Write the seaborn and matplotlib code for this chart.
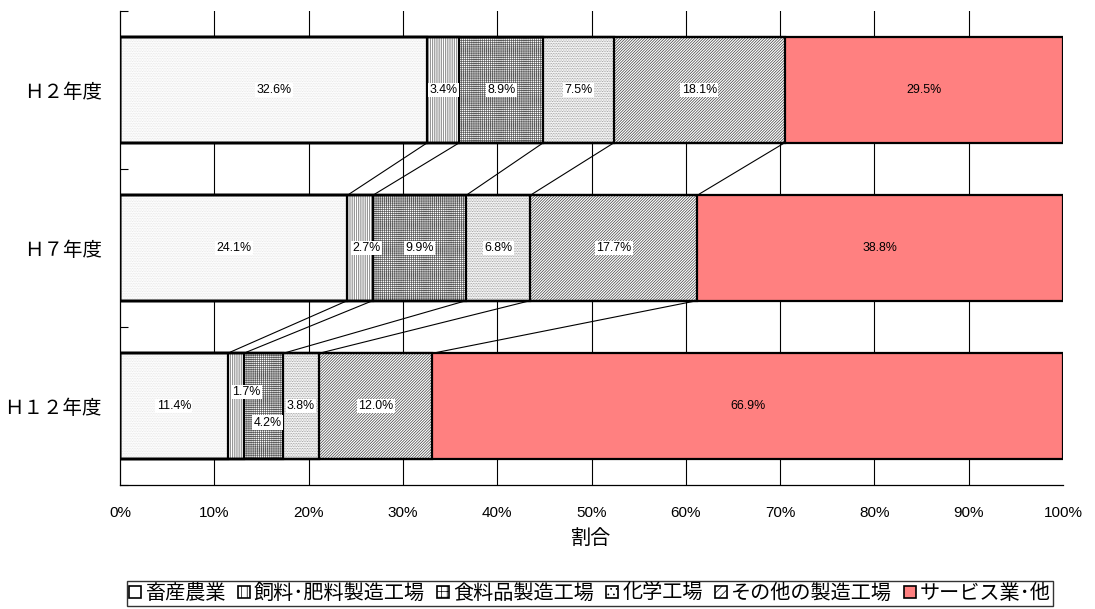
import numpy as np
import pandas as pd
import matplotlib
matplotlib.use("Agg")
import matplotlib.pyplot as plt
import seaborn as sns
from matplotlib.patches import Rectangle, Patch

# ---------------- data ----------------
years = ["Ｈ２年度", "Ｈ７年度", "Ｈ１２年度"]
series_names = ["畜産農業", "飼料･肥料製造工場", "食料品製造工場", "化学工場", "その他の製造工場", "サービス業･他"]
livestock = [32.6, 24.1, 11.4]
feed_fert = [3.4, 2.7, 1.7]
food = [8.9, 9.9, 4.2]
chemical = [7.5, 6.8, 3.8]
other_mfg = [18.1, 17.7, 12.0]
service = [29.5, 38.8, 66.9]
x_ticks = [0, 10, 20, 30, 40, 50, 60, 70, 80, 90, 100]
x_label = "割合"

series_values = [livestock, feed_fert, food, chemical, other_mfg, service]

# ---------------- styles ----------------
face_colors = ["white", "white", "white", "white", "white", "#FF8080"]
hatches = ["." * 10, "|" * 9, "+" * 8, "." * 10, "/" * 12, None]
hatch_colors = ["#e2e2e2", "#6a6a6a", "#5a5a5a", "#8a8a8a", "#404040", "#FF8080"]
legend_hatches = [None, "|||", "+++", "...", "////", None]
# label offsets in points (row, series) -> (dx, dy)
label_offsets = {(1, 1): (5, 0), (2, 1): (8, 10), (2, 2): (3, -12)}

plt.rcParams["hatch.linewidth"] = 0.5
plt.rcParams["font.family"] = ["Noto Sans CJK JP", "DejaVu Sans"]

fig = plt.figure(figsize=(10.95, 6.09), dpi=100)
ax = fig.add_axes([120 / 1095, 1 - 485 / 609, (1063 - 120) / 1095, (485 - 11) / 609])

# cumulative table
df = pd.DataFrame({"year": years})
cum = np.zeros(len(years))
cum_cols = []
for i, vals in enumerate(series_values):
    cum = cum + np.array(vals)
    col = f"cum{i}"
    df[col] = cum
    cum_cols.append(col)

bar_h = 2 / 3
series_patches = {}
for i in reversed(range(len(series_values))):
    n_before = len(ax.patches)
    sns.barplot(data=df, x=cum_cols[i], y="year", orient="h", color=face_colors[i],
                saturation=1, width=bar_h, ax=ax, zorder=2)
    new = ax.patches[n_before:]
    series_patches[i] = new
    for p in new:
        p.set_facecolor(face_colors[i])
        if hatches[i]:
            p.set_hatch(hatches[i])
        p.set_edgecolor(hatch_colors[i])
        p.set_linewidth(0)

# outlines
for i in range(len(series_values)):
    for p in series_patches[i]:
        r = Rectangle((p.get_x(), p.get_y()), p.get_width(), p.get_height(),
                      fill=False, edgecolor="black", linewidth=1.6, zorder=3)
        ax.add_patch(r)

# data labels
for i, vals in enumerate(series_values):
    for r in range(len(years)):
        left = df[cum_cols[i]].iloc[r] - vals[r]
        xc = left + vals[r] / 2
        dx, dy = label_offsets.get((r, i), (0, 0))
        bbox = None if i == len(series_values) - 1 else dict(facecolor="white", edgecolor="none", pad=1.0)
        ax.annotate(f"{vals[r]:.1f}%", (xc, r), xytext=(dx, dy), textcoords="offset points",
                    ha="center", va="center", fontsize=8.9, family="Liberation Sans",
                    bbox=bbox, zorder=5)

# series lines
for r in range(len(years) - 1):
    for i in range(len(series_values) - 1):
        x0 = df[cum_cols[i]].iloc[r]
        x1 = df[cum_cols[i]].iloc[r + 1]
        ax.plot([x0, x1], [r + bar_h / 2, r + 1 - bar_h / 2], color="black", lw=0.8, zorder=1.5)

# gridlines
for t in x_ticks[1:-1]:
    ax.axvline(t, color="black", lw=0.8, zorder=1)

ax.set_xlim(0, 100)
ax.set_ylim(len(years) - 0.5, -0.5)
ax.set_xticks(x_ticks)
ax.set_xticklabels([f"{t}%" for t in x_ticks], family="Liberation Sans", fontsize=11)
ax.tick_params(axis="x", length=0, pad=15)
ax.set_yticks(range(len(years)))
ax.set_yticklabels(years, fontsize=14)
ax.tick_params(axis="y", length=0, pad=13)
ax.set_yticks([-0.5, 0.5, 1.5, 2.5], minor=True)
ax.tick_params(axis="y", which="minor", direction="in", length=6, width=0.8, color="black")
ax.set_ylabel("")
ax.set_xlabel(x_label, fontsize=14.5, labelpad=6)
for s in ["top", "right"]:
    ax.spines[s].set_visible(False)
for s in ["left", "bottom"]:
    ax.spines[s].set_color("black")
    ax.spines[s].set_linewidth(0.9)
ax.set_facecolor("white")

# legend
handles = [Patch(facecolor=face_colors[i], hatch=legend_hatches[i], edgecolor="black", linewidth=1.2)
           for i in range(len(series_names))]
leg = fig.legend(handles, series_names, loc="center", bbox_to_anchor=(590 / 1095, 1 - 593.5 / 609),
                 ncol=6, frameon=True, fancybox=False, fontsize=14.5,
                 handlelength=0.6, handleheight=0.6, handletextpad=0.2, columnspacing=0.6,
                 borderpad=0.12, borderaxespad=0)
leg.get_frame().set_edgecolor("black")
leg.get_frame().set_linewidth(1.0)

fig.savefig("out.png", dpi=100, facecolor="white")
